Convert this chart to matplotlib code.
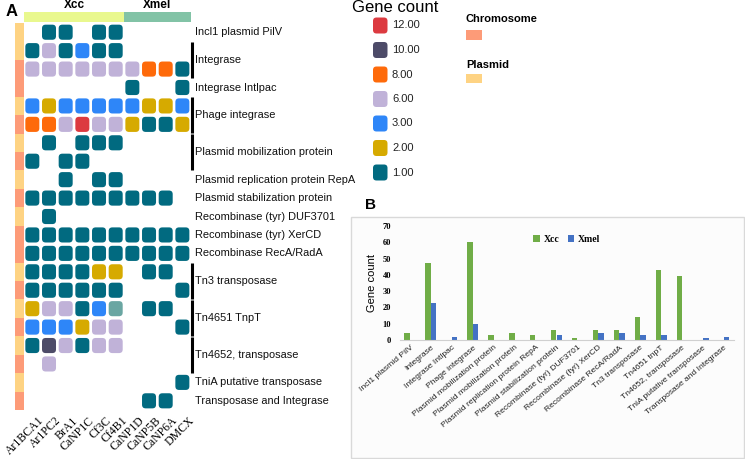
import matplotlib
matplotlib.use("Agg")
import matplotlib.pyplot as plt
from matplotlib.patches import FancyBboxPatch, Rectangle
import numpy as np

# ---------------- data: panel A ----------------
strains = ["Ar1BCA1", "Ar1PC2", "BrA1", "CaNP1C", "Cf3C", "Cf4B1",
           "CaNP1D", "CaNP5B", "CaNP6A", "DMCX"]
species_groups = [("Xcc", 0, 6), ("Xmel", 6, 10)]
# replicon type per row: P = plasmid, C = chromosome
row_types = ["P", "P", "C", "C", "P", "C", "P", "C", "P", "C", "P",
             "C", "C", "P", "C", "P", "C", "P", "C", "P", "C"]
# gene labels: (label, first row, number of rows)
gene_labels = [("Incl1 plasmid PilV", 0, 1), ("Integrase", 1, 2),
               ("Integrase Intlpac", 3, 1), ("Phage integrase", 4, 2),
               ("Plasmid mobilization protein", 6, 2),
               ("Plasmid replication protein RepA", 8, 1),
               ("Plasmid stabilization protein", 9, 1),
               ("Recombinase (tyr) DUF3701", 10, 1),
               ("Recombinase (tyr) XerCD", 11, 1),
               ("Recombinase RecA/RadA", 12, 1),
               ("Tn3 transposase", 13, 2), ("Tn4651 TnpT", 15, 2),
               ("Tn4652, transposase", 17, 2),
               ("TniA putative transposase", 19, 1),
               ("Transposase and Integrase", 20, 1)]
# gene counts (0 = absent); 4 marks the one greyish-teal cell
counts = [
    [0, 1, 1, 0, 1, 1, 0, 0, 0, 0],
    [1, 6, 1, 3, 1, 1, 0, 0, 0, 0],
    [6, 6, 6, 6, 6, 6, 6, 8, 8, 1],
    [0, 0, 0, 0, 0, 0, 1, 0, 0, 1],
    [3, 2, 3, 3, 3, 3, 3, 2, 2, 3],
    [8, 8, 6, 12, 6, 6, 2, 1, 1, 2],
    [0, 1, 0, 1, 1, 1, 0, 0, 0, 0],
    [1, 0, 1, 1, 0, 0, 0, 0, 0, 0],
    [0, 0, 1, 0, 1, 1, 0, 0, 0, 0],
    [1, 1, 1, 1, 1, 1, 1, 1, 1, 0],
    [0, 1, 0, 0, 0, 0, 0, 0, 0, 0],
    [1, 1, 1, 1, 1, 1, 1, 1, 1, 1],
    [1, 1, 1, 1, 1, 1, 1, 1, 1, 1],
    [1, 1, 1, 1, 2, 2, 0, 1, 1, 0],
    [1, 1, 1, 1, 1, 1, 0, 0, 0, 1],
    [2, 6, 6, 1, 3, 4, 0, 1, 1, 0],
    [3, 3, 3, 2, 6, 6, 0, 0, 0, 1],
    [1, 10, 6, 1, 6, 6, 0, 0, 0, 0],
    [0, 6, 0, 0, 0, 0, 0, 0, 0, 0],
    [0, 0, 0, 0, 0, 0, 0, 0, 0, 1],
    [0, 0, 0, 0, 0, 0, 0, 1, 1, 0],
]
legend_values = [12, 10, 8, 6, 3, 2, 1]

# ---------------- data: panel B ----------------
categories = ["Incl1 plasmid PilV", "Integrase", "Integrase Intlpac",
              "Phage integrase", "Plasmid mobilization protein",
              "Plasmid mobilization protein", "Plasmid replication protein RepA",
              "Plasmid stabilization protein", "Recombinase (tyr) DUF3701",
              "Recombinase (tyr) XerCD", "Recombinase RecA/RadA",
              "Tn3 transposase", "Tn4651 tnpT", "Tn4652, transposase",
              "TniA putative transposase", "Transposase and Integrase"]
xcc_counts = [4, 47, 0, 60, 3, 4, 3, 6, 1, 6, 6, 14, 43, 39, 0, 0]
xmel_counts = [0, 23, 2, 10, 0, 0, 0, 3, 0, 4, 4, 3, 3, 0, 1, 2]
yticks_b = [0, 10, 20, 30, 40, 50, 60, 70]

# ---------------- styles ----------------
cmap = {12: "#dc3a40", 10: "#4d4b68", 8: "#fe6a0a", 6: "#c0b2d8",
        4: "#6aa6a2", 3: "#2e86f8", 2: "#d6aa00", 1: "#016a80"}
type_col = {"C": "#fd9b78", "P": "#fed383"}
grp_col = {"Xcc": "#e9f88e", "Xmel": "#82c3a6"}
SANS = "Liberation Sans"
SERIF = "Liberation Serif"

W, H = 745, 459
fig = plt.figure(figsize=(W / 100, H / 100), dpi=100)

def px_axes(x0, y0, x1, y1):
    return fig.add_axes([x0 / W, 1 - y1 / H, (x1 - x0) / W, (y1 - y0) / H])

# ---------------- panel A heatmap ----------------
nrow, ncol = len(counts), len(strains)
pitch_x, pitch_y = 16.67, 18.43
left_pad, top_pad = 0.55, 0.6
x_start = 24 - left_pad * pitch_x
y_start = 23 - top_pad * pitch_y
ax = px_axes(x_start, y_start, 24 + ncol * pitch_x, 23 + nrow * pitch_y)
ax.set_xlim(-left_pad, ncol)
ax.set_ylim(nrow, -top_pad)
ax.axis("off")

asp = (1 / pitch_y) / (1 / pitch_x)
for r, row in enumerate(counts):
    for c, v in enumerate(row):
        if v:
            ax.add_patch(FancyBboxPatch((c + 0.08, r + 0.09), 0.84, 0.82,
                                        boxstyle="round,pad=0,rounding_size=0.22",
                                        mutation_aspect=asp, fc=cmap[v], ec="none"))
    ax.add_patch(Rectangle((-left_pad, r), left_pad, 1, fc=type_col[row_types[r]], ec="none"))

for name, c0, c1 in species_groups:
    ax.add_patch(Rectangle((c0, -top_pad), c1 - c0, top_pad - 0.05,
                           fc=grp_col[name], ec="none"))
    ax.text((c0 + c1) / 2, -0.95, name, ha="center", va="center",
            fontsize=8.5, fontweight="bold", family=SANS, clip_on=False)

for label, r0, n in gene_labels:
    ax.text(ncol + 0.28, r0 + n / 2, label, ha="left", va="center",
            fontsize=7.9, family=SANS, color="#111111", clip_on=False)
    if n > 1:
        ax.plot([ncol + 0.1, ncol + 0.1], [r0 + 0.03, r0 + n - 0.03], color="black",
                lw=2.2, solid_capstyle="butt", clip_on=False)

for c, s in enumerate(strains):
    ax.text(c + 0.85, nrow + 0.25, s, rotation=45, ha="right", va="top",
            rotation_mode="anchor", fontsize=8.5, family=SERIF, clip_on=False)

# ---------------- overlay (legends, panel letters) ----------------
ov = fig.add_axes([0, 0, 1, 1], zorder=-1)
ov.set_xlim(0, W)
ov.set_ylim(H, 0)
ov.axis("off")
ov.text(12, 11, "A", fontsize=12, fontweight="bold", family=SANS, ha="center", va="center")
ov.text(395, 8, "Gene count", fontsize=12, family=SANS, ha="center", va="center")
for i, v in enumerate(legend_values):
    yc = 25.5 + i * 24.5
    ov.add_patch(FancyBboxPatch((373, yc - 8), 14.5, 16,
                                boxstyle="round,pad=0,rounding_size=3.5",
                                fc=cmap[v], ec="none"))
    ov.text(392, yc, f"{v:.2f}", fontsize=8, family=SANS, ha="left", va="center", color="#222222")
ov.text(465, 19, "Chromosome", fontsize=8, fontweight="bold", family=SANS, ha="left", va="center")
ov.add_patch(Rectangle((466, 30), 16, 9.5, fc=type_col["C"], ec="none"))
ov.text(466, 65.5, "Plasmid", fontsize=8, fontweight="bold", family=SANS, ha="left", va="center")
ov.add_patch(Rectangle((466, 73.5), 16, 9.5, fc=type_col["P"], ec="none"))

# panel B frame
ov.add_patch(Rectangle((351, 217), 393, 240.5, fc="#fcfcfc", ec="#d9d9d9", lw=1))
ov.text(370, 205, "B", fontsize=11, fontweight="bold", family=SANS, ha="center", va="center")

# ---------------- panel B bars ----------------
n = len(categories)
bx = px_axes(399.5, 226, 399.5 + n * 20.93, 340)
x = np.arange(n)
bw = 0.26
bx.bar(x - 0.135, xcc_counts, bw, color="#70ad47", label="Xcc")
bx.bar(x + 0.135, xmel_counts, bw, color="#4472c4", label="Xmel")
bx.set_xlim(-0.5, n - 0.5)
bx.set_ylim(0, 70)
bx.set_facecolor("none")
for s in ["top", "right", "left"]:
    bx.spines[s].set_visible(False)
bx.spines["bottom"].set_color("#d0d0d0")
bx.spines["bottom"].set_linewidth(0.8)
bx.set_yticks(yticks_b)
bx.set_yticklabels([str(t) for t in yticks_b], fontsize=6, fontweight="bold", family=SERIF)
bx.tick_params(axis="y", length=0, pad=6)
bx.set_xticks(x)
bx.set_xticklabels(categories, rotation=40, ha="right", rotation_mode="anchor",
                   fontsize=6.1, family=SANS, color="#222222")
bx.tick_params(axis="x", length=0, pad=3)
bx.set_ylabel("Gene count", fontsize=8, family=SANS, labelpad=4)
leg = bx.legend(loc="upper center", bbox_to_anchor=(0.5, 1.0), ncol=2, frameon=False,
                prop={"family": SERIF, "weight": "bold", "size": 7},
                handlelength=0.7, handleheight=0.7, columnspacing=0.8, handletextpad=0.4)

fig.savefig("out.png", dpi=100)
